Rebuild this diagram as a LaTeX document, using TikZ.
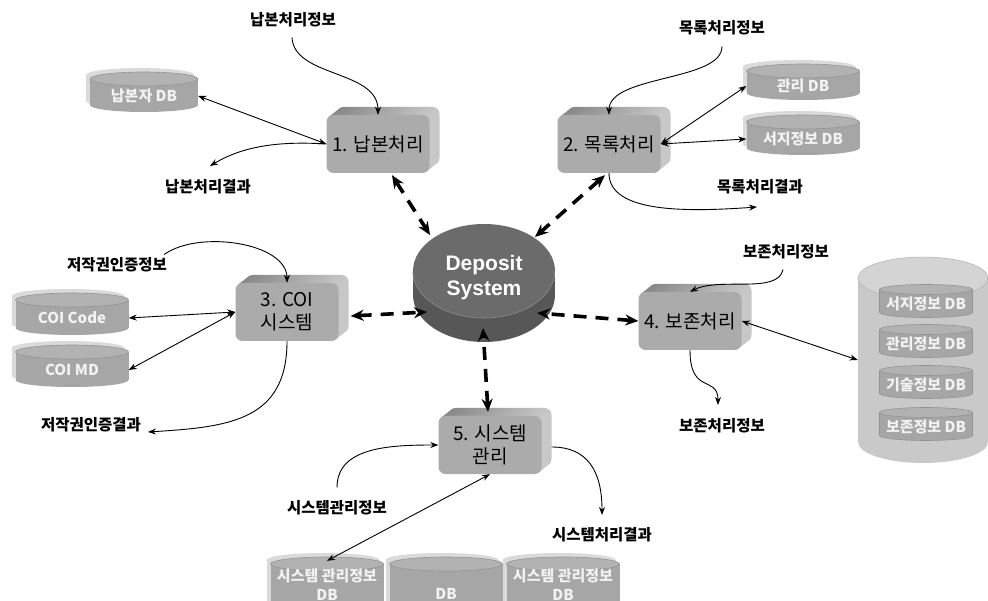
\documentclass[tikz,border=0pt]{standalone}
\usepackage{fontspec}
\setmainfont{Noto Sans CJK KR}
\newfontfamily\arialfont{Liberation Sans}
\usetikzlibrary{arrows.meta,shadows,calc,shapes.geometric}
\definecolor{boxface}{HTML}{ABABAB}
\definecolor{boxback}{HTML}{858585}
\definecolor{boxside}{HTML}{C9C9C9}
\definecolor{dbbody}{HTML}{A6A6A6}
\definecolor{dbtop}{HTML}{B2B2B2}
\definecolor{dbghost}{HTML}{DADADA}
\definecolor{dbrim}{HTML}{939393}
\definecolor{deptop}{HTML}{6B6B6B}
\definecolor{depside}{HTML}{575757}
\definecolor{deprim}{HTML}{8A8A8A}
\definecolor{bigbody}{HTML}{C9C9C9}
\definecolor{bigtop}{HTML}{D4D4D4}
\definecolor{dbfont}{HTML}{F2F2F2}

\newcommand\cylbody[7]{%
  \fill[#6] (#1-#3/2,#2-#4/2+#5) rectangle (#1+#3/2,#2+#4/2-#5);
  \fill[#6] (#1,#2+#4/2-#5) ellipse[x radius=#3/2, y radius=#5];
  \fill[#7] (#1,#2-#4/2+#5) ellipse[x radius=#3/2, y radius=#5];
}
\newcommand\dbnode[6]{%
  \begin{scope}[shift={(-4,-4)}]\cylbody{#1}{#2}{#3}{#4}{7}{dbghost}{dbghost}\end{scope}
  \cylbody{#1}{#2}{#3}{#4}{7}{dbbody}{dbtop}
  \draw[dbrim, line width=0.6pt] (#1,#2-#4/2+7) ellipse[x radius=#3/2, y radius=7];
  \node[dbtext, minimum width=#3, minimum height=#4] (#5) at (#1,#2+4) {#6};
}
\newcommand\innerdb[4]{%
  \cylbody{#1}{#2}{93}{33}{5}{dbbody}{dbtop}
  \draw[dbrim, line width=0.6pt] (#1-46.5,#2-11.5) -- (#1-46.5,#2+11.5)
     arc[start angle=180, end angle=0, x radius=46.5, y radius=5] -- (#1+46.5,#2-11.5);
  \draw[dbrim, line width=0.6pt] (#1,#2-11.5) ellipse[x radius=46.5, y radius=5];
  \node[dbtext, minimum width=93, minimum height=33] (#3) at (#1,#2+3) {#4};
}

\begin{document}
\begin{tikzpicture}[x=1pt, y=-1pt,
  lbl/.style={font=\bfseries\fontsize{15.5}{17}\selectfont, inner sep=1pt},
  proc/.style={rectangle, rounded corners=7pt, fill=boxface, minimum width=103, minimum height=58,
     align=center, inner sep=1pt, font=\fontsize{19}{23}\selectfont,
     general shadow={shadow xshift=10pt, shadow yshift=8pt, left color=boxback, right color=boxside},
     general shadow={shadow xshift=7pt, shadow yshift=5.6pt, left color=boxback, right color=boxside},
     general shadow={shadow xshift=4pt, shadow yshift=3.2pt, left color=boxback, right color=boxside},
     general shadow={shadow xshift=1.5pt, shadow yshift=1.2pt, left color=boxback, right color=boxside}},
  dbtext/.style={rectangle, inner sep=0pt, align=center, text=dbfont,
     font=\bfseries\fontsize{15}{19}\selectfont},
  flow/.style={-{Stealth[length=8pt,width=6pt]}, line width=0.9pt},
  flowboth/.style={{Stealth[length=8pt,width=6pt]}-{Stealth[length=8pt,width=6pt]}, line width=0.9pt},
  deparrow/.style={{Stealth[length=13pt,width=11pt]}-{Stealth[length=13pt,width=11pt]},
     line width=3.6pt, dash pattern=on 13pt off 9pt},
]
\useasboundingbox (0,0) rectangle (988,601);
\fill[white] (0,0) rectangle (988,601);

% ---------- databases ----------
\dbnode{144}{92}{108}{40}{db1}{납본자 DB}
\dbnode{803}{82}{113}{36}{db2}{관리 DB}
\dbnode{803}{135}{113}{40}{db3}{서지정보 DB}
\dbnode{72}{314}{113}{42}{db4}{COI Code}
\dbnode{72}{366}{113}{42}{db5}{COI MD}

% big storage cylinder
\cylbody{923}{360}{130}{206}{21}{bigbody}{bigtop}
\draw[gray!60, line width=0.5pt] (923,278) ellipse[x radius=65, y radius=21];
\node[minimum width=130, minimum height=206, inner sep=0pt] (bigdb) at (923,360) {};
\innerdb{926}{301}{in1}{서지정보 DB}
\innerdb{926}{341}{in2}{관리정보 DB}
\innerdb{926}{382}{in3}{기술정보 DB}
\innerdb{926}{424}{in4}{보존정보 DB}

% bottom databases (cut by the page edge)
\begin{scope}
\clip (0,0) rectangle (988,601);
\dbnode{327}{592}{113}{70}{bd1}{}
\dbnode{446}{592}{113}{70}{bd2}{}
\dbnode{563}{592}{113}{70}{bd3}{}
\node[dbtext] (bt1) at (327,585) {시스템 관리정보\\DB};
\node[dbtext] (bt2) at (446,594) {DB};
\node[dbtext] (bt3) at (563,585) {시스템 관리정보\\DB};
\end{scope}

% ---------- deposit system ----------
\fill[depside] (413,271) rectangle (555,295);
\fill[depside] (484,295) ellipse[x radius=71, y radius=47];
\node[ellipse, fill=deptop, minimum width=142, minimum height=94, inner sep=0pt] (dep) at (484,271) {};
\draw[deprim, line width=0.6pt] (dep.west) arc[start angle=180, end angle=0, x radius=71, y radius=47];
\node[text=white, align=center, font=\arialfont\bfseries\fontsize{21}{25}\selectfont] (deptxt) at (484,278) {Deposit\\System};

% ---------- process boxes ----------
\node[proc] (b1) at (378,144) {1. 납본처리};
\node[proc] (b2) at (609,144) {2. 목록처리};
\node[proc] (b3) at (287,312) {3. COI\\시스템};
\node[proc] (b4) at (690,321) {4. 보존처리};
\node[proc] (b5) at (490,445) {5. 시스템\\관리};

% ---------- labels ----------
\node[lbl] (l1i) at (293,20) {납본처리정보};
\node[lbl] (l1r) at (208,187) {납본처리결과};
\node[lbl] (l2i) at (722,28) {목록처리정보};
\node[lbl] (l2r) at (760,187) {목록처리결과};
\node[lbl] (l3i) at (117,265) {저작권인증정보};
\node[lbl] (l3r) at (91,425) {저작권인증결과};
\node[lbl] (l4i) at (786,252) {보존처리정보};
\node[lbl] (l4r) at (722,426) {보존처리정보};
\node[lbl] (l5i) at (337,508) {시스템관리정보};
\node[lbl] (l5r) at (602,535) {시스템처리결과};

\coordinate (e1r) at (210,166);
\coordinate (e2r) at (757,207);
\coordinate (e3r) at (148,432);
\coordinate (e4r) at (718,405);
\coordinate (e5r) at (602,515);

% ---------- thin connectors ----------
\draw[flow] ($(l1i.south)+(-1,9)$) .. controls +(2,40) and +(0,-45) .. (b1.north);
\draw[flowboth] (db1.east) -- (b1.west);
\draw[flow] (b1.west) .. controls +(-60,-4) and +(25,-15) .. (e1r);

\draw[flow] ($(l2i.south)+(0,10)$) .. controls +(0,35) and +(0,-40) .. (b2.north);
\draw[flowboth] (b2.east) -- (db2.west);
\draw[flowboth] (b2.east) -- (db3.west);
\draw[flow] (b2.south) .. controls +(0,40) and +(-70,5) .. (e2r);

\draw[flow] ($(l3i.north east)+(-4,-2)$) .. controls +(35,-25) and +(0,-40) .. (b3.north);
\draw[flowboth] (db4.east) -- (b3.west);
\draw[flowboth] (db5.east) -- (b3.west);
\draw[flow] (b3.south) .. controls +(0,80) and +(80,-5) .. (e3r);

\draw[flow] ($(l4i.south)+(-3,9)$) .. controls +(-5,25) and +(30,-15) .. (b4.north);
\draw[flowboth] (b4.east) -- (bigdb.west);
\draw[flow] (b4.south) .. controls +(0,45) and +(0,-30) .. (e4r);

\draw[flow] ($(l5i.north)+(0,-12)$) .. controls +(0,-40) and +(-50,0) .. (b5.west);
\draw[flowboth] (b5.south) -- (bd1.north);
\draw[flow] ($(b5.east)+(10,2)$) .. controls +(35,0) and +(0,-45) .. (e5r);

% ---------- thick dashed connectors ----------
\draw[deparrow] ($(b1.south)+(14,2)$) -- ($(dep.center)+(-54,-36)$);
\draw[deparrow] ($(b2.south)+(-4,2)$) -- ($(dep.center)+(51,-34)$);
\draw[deparrow] ($(b3.east)+(12,4)$) -- ($(dep.center)+(-57,41)$);
\draw[deparrow] (b4.west) -- ($(dep.center)+(53,42)$);
\draw[deparrow] ($(b5.north)+(-2,-4)$) -- ($(dep.center)+(-1,57)$);
\end{tikzpicture}
\end{document}
